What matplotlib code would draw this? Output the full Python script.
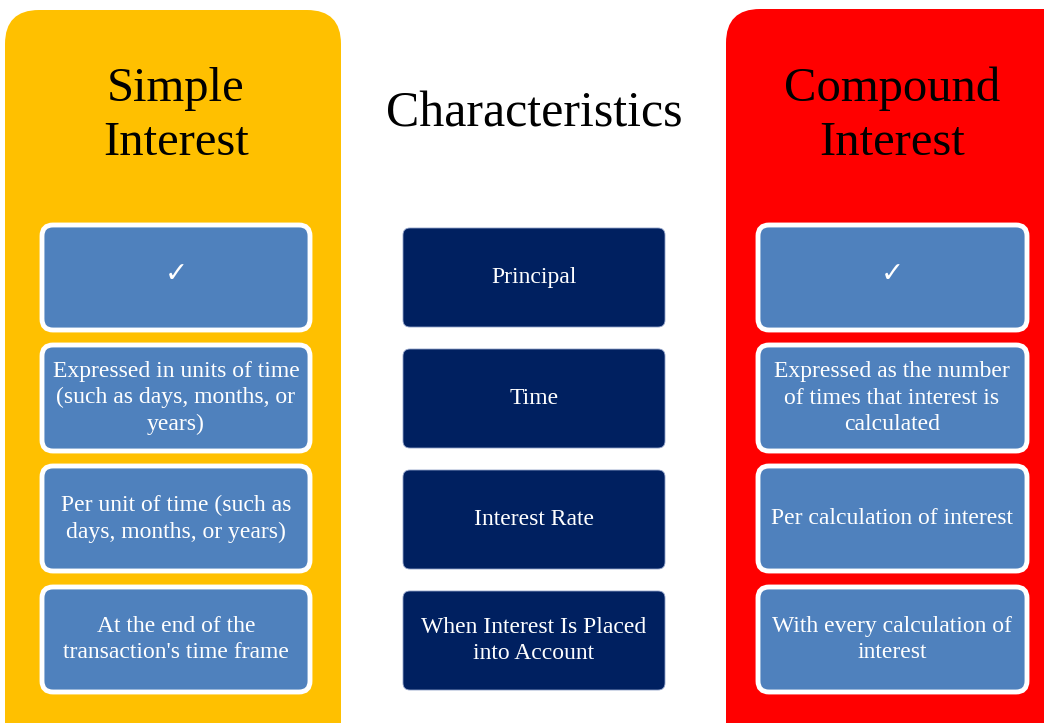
import matplotlib
matplotlib.use("Agg")
import matplotlib.pyplot as plt
from matplotlib.patches import FancyBboxPatch

W, H = 1044, 723
simple_title = "Simple\nInterest"
compound_title = "Compound\nInterest"
middle_title = "Characteristics"
characteristics = ["Principal", "Time", "Interest Rate", "When Interest Is Placed\ninto Account"]
simple_items = ["\u2713", "Expressed in units of time\n(such as days, months, or\nyears)",
                "Per unit of time (such as\ndays, months, or years)",
                "At the end of the\ntransaction's time frame"]
compound_items = ["\u2713", "Expressed as the number\nof times that interest is\ncalculated",
                  "Per calculation of interest",
                  "With every calculation of\ninterest"]

YELLOW = "#FFC000"
RED = "#FF0000"
BLUE = "#4F81BD"
NAVY = "#002060"
FONT = ["Liberation Serif", "DejaVu Sans"]

fig = plt.figure(figsize=(W / 100, H / 100), dpi=100)
ax = fig.add_axes([0, 0, 1, 1])
ax.set_xlim(0, W)
ax.set_ylim(H, 0)
ax.axis("off")

def rbox(x0, y0, x1, y1, r, fc, ec="none", lw=0, z=1):
    p = FancyBboxPatch((x0 + r, y0 + r), (x1 - x0) - 2 * r, (y1 - y0) - 2 * r,
                       boxstyle=f"round,pad={r}", fc=fc, ec=ec, lw=lw, zorder=z)
    ax.add_patch(p)

# panels
rbox(5, 10, 341, 780, 34, YELLOW)
rbox(726, 9, 1100, 780, 34, RED)

ax.text(176, 116, simple_title, ha="center", va="center", fontsize=35, family=FONT,
        color="black", linespacing=1.3)
ax.text(892, 116, compound_title, ha="center", va="center", fontsize=35, family=FONT,
        color="black", linespacing=1.3)
ax.text(534, 114, middle_title, ha="center", va="center", fontsize=36, family=FONT, color="black")

rows = [(224, 331), (344, 452), (465, 572), (586, 693)]
mid_rows = [(228, 327), (349, 448), (470, 569), (591, 690)]

for (y0, y1), t in zip(rows, simple_items):
    rbox(42, y0 + 1, 310, y1 - 1, 11, BLUE, ec="white", lw=3.5, z=2)
    fs = 20 if t == "\u2713" else 17
    dy = -2 if t == "\u2713" else 0
    ax.text(176, (y0 + y1) / 2 + dy, t, ha="center", va="center", fontsize=fs, family=FONT,
            color="white", linespacing=1.35, zorder=3)

for (y0, y1), t in zip(rows, compound_items):
    rbox(758, y0 + 1, 1027, y1 - 1, 11, BLUE, ec="white", lw=3.5, z=2)
    fs = 20 if t == "\u2713" else 17
    dy = -2 if t == "\u2713" else 0
    ax.text(892, (y0 + y1) / 2 + dy, t, ha="center", va="center", fontsize=fs, family=FONT,
            color="white", linespacing=1.35, zorder=3)

for (y0, y1), t in zip(mid_rows, characteristics):
    rbox(403, y0, 665, y1, 7, NAVY, ec="#8FA0C8", lw=0.6, z=2)
    ax.text(534, (y0 + y1) / 2, t, ha="center", va="center", fontsize=17, family=FONT,
            color="white", linespacing=1.35, zorder=3)

fig.savefig("out.png", dpi=100)
